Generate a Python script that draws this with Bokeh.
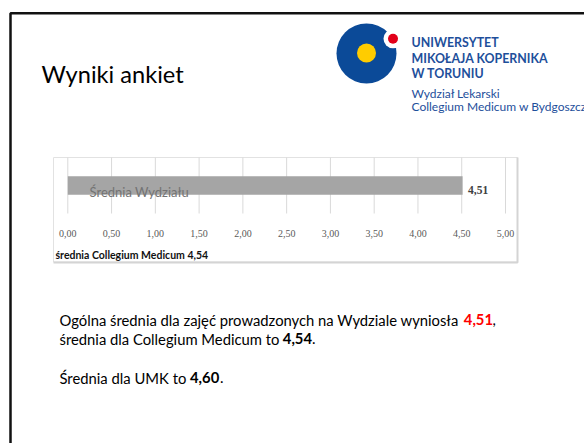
from bokeh.plotting import figure
from bokeh.models import Range1d
from bokeh.core.properties import value
from bokeh.embed import file_html
from bokeh.resources import INLINE

# ---------------- data ----------------
title_text = "Wyniki ankiet"
categories = ["Średnia Wydziału"]
values = [4.51]
tick_values = [0.0, 0.5, 1.0, 1.5, 2.0, 2.5, 3.0, 3.5, 4.0, 4.5, 5.0]
tick_labels = ["0,00", "0,50", "1,00", "1,50", "2,00", "2,50", "3,00", "3,50", "4,00", "4,50", "5,00"]
cm_mean = 4.54
umk_mean = 4.60
logo_bold = ["UNIWERSYTET", "MIKOŁAJA KOPERNIKA", "W TORUNIU"]
logo_regular = ["Wydział Lekarski", "Collegium Medicum w Bydgoszczy"]


def fmt(v):
    return f"{v:.2f}".replace(".", ",")


# ---------------- layout ----------------
W, H = 584, 443
X0 = 67.3   # screen x of value 0 on the chart axis
S = 87.54   # pixels per unit on the chart axis

p = figure(width=W, height=H, output_backend="svg", toolbar_location=None,
           x_range=Range1d((0 - X0) / S, (W - X0) / S),
           y_range=Range1d(H, 0),
           min_border=0, x_axis_location=None, y_axis_location=None,
           outline_line_color=None, background_fill_color="white",
           border_fill_color="white")
p.grid.visible = False
p.extra_x_ranges = {"px": Range1d(0, W)}

LATO = value("Lato")
SERIF = value("Liberation Serif")
BLUE_TXT = "#1e4f9b"

# slide border
p.line(x=[10, 10, 600], y=[460, 12.8, 12.8], line_color="#111111", line_width=2.5,
       x_range_name="px")

# title
p.text(x=[41], y=[73.3], text=[title_text], text_font=LATO, text_font_size="23.6px",
       text_color="#000000", text_baseline="alphabetic", x_range_name="px")

# logo
p.scatter(x=[366], y=[53], size=60, marker="circle", fill_color="#0b4a98",
          line_color=None, x_range_name="px")
p.scatter(x=[366], y=[52.5], size=19, marker="circle", fill_color="#ffcc00",
          line_color=None, x_range_name="px")
p.scatter(x=[392.5], y=[38.3], size=19, marker="circle", fill_color="white",
          line_color=None, x_range_name="px")
p.scatter(x=[392.5], y=[38.3], size=10, marker="circle", fill_color="#e2001a",
          line_color=None, x_range_name="px")
p.text(x=[411] * 3, y=[41.7, 57.7, 73.3], text=logo_bold, text_font=LATO,
       text_font_size="12.4px", text_font_style="bold", text_color=BLUE_TXT,
       text_baseline="alphabetic", x_range_name="px")
p.text(x=[411] * 2, y=[93.3, 106], text=logo_regular, text_font=LATO,
       text_font_size="12px", text_color=BLUE_TXT,
       text_baseline="alphabetic", x_range_name="px")

# chart box
p.quad(left=[53], right=[517], top=[157], bottom=[261.5], fill_color="white",
       line_color="#e2e2e2", line_width=1, x_range_name="px")
p.line(x=[53, 517, 517], y=[262, 262, 157], line_color="#d4d4d4", line_width=2,
       x_range_name="px")

# grid lines
p.segment(x0=tick_values, x1=tick_values, y0=157, y1=213,
          line_color="#d9d9d9", line_width=1)

# bar
p.hbar(y=[185], left=0, right=values, height=18.3, fill_color="#a5a5a5",
       line_color=None)

# category label (drawn inside the bar)
p.text(x=[89], y=[191.5], text=categories, text_font=LATO, text_font_size="13px",
       text_color="#737373", text_baseline="alphabetic", x_range_name="px")

# value label
p.text(x=values, y=[189.3], text=[fmt(v) for v in values], x_offset=5.5,
       text_font=SERIF, text_font_size="11.5px", text_font_style="bold",
       text_color="#404040", text_baseline="alphabetic")

# tick labels
p.text(x=tick_values, y=[232.8] * len(tick_values), text=tick_labels,
       text_font=SERIF, text_font_size="10px", text_color="#595959",
       text_align="center", text_baseline="alphabetic")

# caption under chart
p.text(x=[55], y=[254.3], text=[f"średnia Collegium Medicum {fmt(cm_mean)}"],
       text_font=LATO, text_font_size="10.5px",
       text_font_style="bold", text_color="#111111", text_baseline="alphabetic",
       x_range_name="px")

# body text
BODY = "14.8px"
p.text(x=[59, 59, 59], y=[319.3, 338.3, 377.3],
       text=["Ogólna średnia dla  zajęć prowadzonych na Wydziale wyniosła ",
             "średnia dla Collegium Medicum  to ",
             "Średnia dla UMK to "],
       text_font=LATO, text_font_size=BODY, text_color="#000000",
       text_baseline="alphabetic", x_range_name="px")
p.text(x=[463.3], y=[319.3], text=[fmt(values[0])], text_font=LATO,
       text_font_size=BODY, text_font_style="bold", text_color="#ff0000",
       text_baseline="alphabetic", x_range_name="px")
p.text(x=[282.3, 189.5], y=[338.3, 377.3], text=[fmt(cm_mean), fmt(umk_mean)],
       text_font=LATO, text_font_size=BODY, text_font_style="bold",
       text_color="#000000", text_baseline="alphabetic", x_range_name="px")
p.text(x=[492, 311.5, 219.5], y=[319.3, 338.3, 377.3], text=[",", ".", "."],
       text_font=LATO, text_font_size=BODY, text_color="#000000",
       text_baseline="alphabetic", x_range_name="px")

open("out.html", "w").write(file_html(p, INLINE))
